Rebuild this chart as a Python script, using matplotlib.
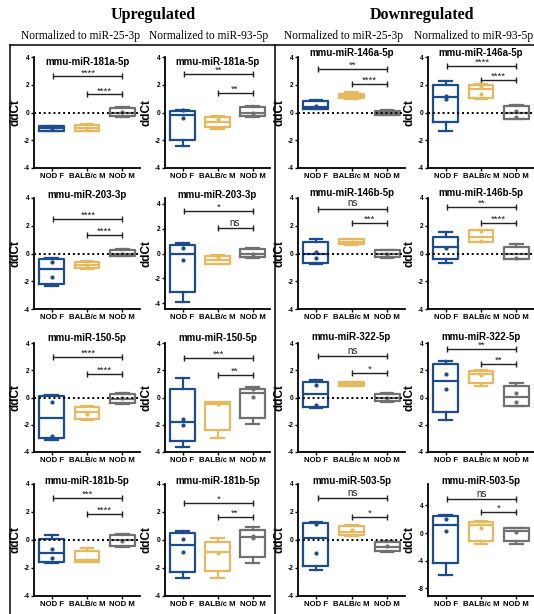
import matplotlib
matplotlib.use("Agg")
import matplotlib.pyplot as plt
from matplotlib.lines import Line2D

W, H = 534, 614

groups = ["NOD F", "BALB/c M", "NOD M"]
colors = ["#1d4b8f", "#e8b95c", "#707070"]

# ---------------- data: [min, q1, median, q3, max] per group ----------------
t_181a = "mmu-miR-181a-5p"
s_181a_25 = [[-1.35, -1.3, -1.15, -1.0, -0.95], [-1.35, -1.3, -1.1, -0.87, -0.82], [-0.3, -0.22, 0.0, 0.3, 0.4]]
p_181a_25 = [[-1.15], [-1.1], [0.05]]
g_181a_25 = [("****", 2.6), ("****", 1.3)]

s_181a_93 = [[-2.45, -1.95, -0.15, 0.1, 0.2], [-1.2, -1.07, -0.65, -0.3, -0.25], [-0.3, -0.25, -0.05, 0.37, 0.45]]
p_181a_93 = [[-0.4, 0.15], [-0.5], [0.0]]
g_181a_93 = [("**", 2.78), ("**", 1.43)]

t_146a = "mmu-miR-146a-5p"
s_146a_25 = [[0.25, 0.27, 0.43, 0.8, 0.9], [1.0, 1.03, 1.2, 1.35, 1.45], [-0.2, -0.17, -0.05, 0.12, 0.15]]
p_146a_25 = [[0.45], [1.2], [-0.05]]
g_146a_25 = [("**", 3.14), ("****", 2.03)]

s_146a_93 = [[-1.3, -0.72, 1.1, 1.98, 2.3], [1.0, 1.03, 1.68, 2.0, 2.05], [-0.5, -0.45, -0.05, 0.48, 0.55]]
p_146a_93 = [[1.2, 1.0], [1.9, 1.35], [0.1, -0.3]]
g_146a_93 = [("****", 3.36), ("****", 2.35)]

t_203 = "mmu-miR-203-3p"
s_203_25 = [[-2.35, -2.2, -1.1, -0.37, -0.3], [-1.1, -1.07, -0.85, -0.6, -0.55], [-0.2, -0.18, 0.0, 0.25, 0.3]]
p_203_25 = [[-0.6, -1.7], [-0.85], [0.0]]
g_203_25 = [("****", 2.48), ("****", 1.33)]

s_203_93 = [[-3.9, -3.07, -0.05, 0.7, 0.85], [-0.85, -0.83, -0.5, -0.2, -0.1], [-0.35, -0.32, 0.0, 0.35, 0.45]]
p_203_93 = [[0.45, -0.5], [-0.4], [0.0]]
g_203_93 = [("*", 3.38), ("ns", 2.03)]

t_146b = "mmu-miR-146b-5p"
s_146b_25 = [[-0.78, -0.66, -0.06, 0.85, 1.06], [0.6, 0.66, 0.85, 1.02, 1.05], [-0.3, -0.23, 0.0, 0.23, 0.28]]
p_146b_25 = [[0.1, -0.3], [0.85], [0.0]]
g_146b_25 = [("ns", 3.22), ("***", 2.17)]

s_146b_93 = [[-0.7, -0.42, 0.47, 1.21, 1.55], [0.8, 0.85, 1.21, 1.69, 1.7], [-0.4, -0.37, 0.0, 0.49, 0.66]]
p_146b_93 = [[0.4], [1.6, 0.9], [-0.3]]
g_146b_93 = [("**", 3.34), ("****", 2.22)]

t_150 = "mmu-miR-150-5p"
s_150_25 = [[-3.1, -3.0, -1.53, 0.13, 0.15], [-1.65, -1.58, -1.09, -0.72, -0.65], [-0.5, -0.43, -0.1, 0.26, 0.3]]
p_150_25 = [[-0.3, -2.85], [-1.2], [0.0]]
g_150_25 = [("****", 3.0), ("****", 1.7)]

s_150_93 = [[-3.62, -3.2, -1.8, 0.6, 1.41], [-3.0, -2.39, -0.45, -0.35, -0.3], [-1.97, -1.48, 0.3, 0.63, 0.75]]
p_150_93 = [[-1.6, -2.0], [-0.5], [0.6, 0.05]]
g_150_93 = [("***", 2.88), ("**", 1.65)]

t_322 = "mmu-miR-322-5p"
s_322_25 = [[-0.8, -0.72, 0.23, 1.16, 1.25], [0.85, 0.87, 1.0, 1.12, 1.15], [-0.35, -0.26, 0.0, 0.23, 0.3]]
p_322_25 = [[0.95, -0.55], [1.0], [0.0]]
g_322_25 = [("ns", 3.05), ("*", 1.78)]

s_322_93 = [[-1.65, -1.04, 1.21, 2.44, 2.7], [0.87, 1.04, 1.75, 1.97, 2.0], [-0.65, -0.6, 0.06, 0.87, 1.04]]
p_322_93 = [[1.75, 0.65], [1.65], [0.3, -0.3]]
g_322_93 = [("**", 3.54), ("**", 2.46)]

t_181b = "mmu-miR-181b-5p"
s_181b_25 = [[-1.66, -1.55, -0.95, 0.07, 0.36], [-1.6, -1.55, -1.45, -0.79, -0.6], [-0.5, -0.4, 0.0, 0.36, 0.45]]
p_181b_25 = [[-0.65, -1.3], [-1.4], [-0.05]]
g_181b_25 = [("***", 3.02), ("****", 1.83)]

s_181b_93 = [[-2.74, -2.26, -0.36, 0.48, 0.62], [-2.69, -2.21, -0.88, -0.12, 0.12], [-1.66, -1.24, 0.19, 0.71, 0.9]]
p_181b_93 = [[0.1, -0.85], [-0.95], [0.3, 0.15]]
g_181b_93 = [("*", 2.62), ("**", 1.67)]

t_503 = "mmu-miR-503-5p"
s_503_25 = [[-2.14, -1.84, 0.17, 1.24, 1.3], [0.3, 0.36, 0.6, 1.0, 1.1], [-0.85, -0.79, -0.5, -0.12, -0.1]]
p_503_25 = [[1.15, -0.9], [0.75], [-0.45]]
g_503_25 = [("ns", 2.98), ("*", 1.67)]

s_503_93 = [[-6.04, -4.35, 1.2, 2.5, 2.65], [-1.6, -1.11, 1.2, 1.54, 1.7], [-1.6, -1.11, 0.33, 0.72, 0.75]]
p_503_93 = [[2.0, 0.3], [0.8], [0.1]]
g_503_93 = [("ns", 4.9), ("*", 3.0)]

default_ticks = [-4, -2, 0, 2, 4]

# panel grid: (title, stats, points, sig, ylim, yticks, zero line)
panels = [
    [(t_181a, s_181a_25, p_181a_25, g_181a_25, (-4, 4), default_ticks, True),
     (t_181a, s_181a_93, p_181a_93, g_181a_93, (-4, 4), default_ticks, False),
     (t_146a, s_146a_25, p_146a_25, g_146a_25, (-4, 4), default_ticks, True),
     (t_146a, s_146a_93, p_146a_93, g_146a_93, (-4, 4), default_ticks, True)],
    [(t_203, s_203_25, p_203_25, g_203_25, (-4, 4), default_ticks, True),
     (t_203, s_203_93, p_203_93, g_203_93, (-4.45, 4.45), default_ticks, False),
     (t_146b, s_146b_25, p_146b_25, g_146b_25, (-4, 4), default_ticks, True),
     (t_146b, s_146b_93, p_146b_93, g_146b_93, (-4, 4), default_ticks, True)],
    [(t_150, s_150_25, p_150_25, g_150_25, (-4, 4), default_ticks, True),
     (t_150, s_150_93, p_150_93, g_150_93, (-4, 4), default_ticks, False),
     (t_322, s_322_25, p_322_25, g_322_25, (-4, 4), default_ticks, True),
     (t_322, s_322_93, p_322_93, g_322_93, (-4, 4), default_ticks, False)],
    [(t_181b, s_181b_25, p_181b_25, g_181b_25, (-4, 4), default_ticks, True),
     (t_181b, s_181b_93, p_181b_93, g_181b_93, (-4, 4), default_ticks, False),
     (t_503, s_503_25, p_503_25, g_503_25, (-4, 4), default_ticks, True),
     (t_503, s_503_93, p_503_93, g_503_93, (-9.1, 7.1), [-8, -4, 0, 4], False)],
]

col_x = [(34, 140), (165, 270), (298, 405), (428, 534)]
row_y = [(57, 168), (198, 309), (343, 452), (484, 596)]
title_y = [[62, 62, 53, 53], [195, 195, 193, 193], [338, 338, 337, 337], [481, 481, 481, 481]]

plt.rcParams["font.family"] = ["Liberation Sans", "DejaVu Sans"]
fig = plt.figure(figsize=(W / 100, H / 100), dpi=100)

for r, row in enumerate(panels):
    for c, (title, stats, pts, sig, ylim, yticks, zero) in enumerate(row):
        x0, x1 = col_x[c]
        yt, yb = row_y[r]
        ax = fig.add_axes([x0 / W, 1 - yb / H, (x1 - x0) / W, (yb - yt) / H])
        bxp_stats = [dict(whislo=s[0], q1=s[1], med=s[2], q3=s[3], whishi=s[4], fliers=[]) for s in stats]
        for i, st in enumerate(bxp_stats):
            col = colors[i]
            ax.bxp([st], positions=[i], widths=0.7, showfliers=False, patch_artist=False,
                   boxprops=dict(color=col, linewidth=1.6),
                   whiskerprops=dict(color=col, linewidth=1.6),
                   capprops=dict(color=col, linewidth=1.6),
                   medianprops=dict(color=col, linewidth=1.6),
                   capwidths=0.35, manage_ticks=False, zorder=3)
            ax.plot([i] * len(pts[i]), pts[i], "o", color=col, markersize=2, zorder=4)
        if zero:
            ax.axhline(0, color="black", linestyle=(0, (1, 1.5)), linewidth=1.4, zorder=5)
        # significance bars
        for k, (lab, yv) in enumerate(sig):
            xa = 0.05 if k == 0 else 1.0
            xb = 2.0
            ax.plot([xa, xb], [yv, yv], color="#222222", linewidth=1.0, zorder=2)
            ax.plot([xa, xb], [yv, yv], "|", color="#222222", markersize=4, markeredgewidth=1.0, zorder=2)
            if lab == "ns":
                ax.annotate(lab, ((xa + xb) / 2, yv), xytext=(0, 0.3), textcoords="offset points",
                            ha="center", va="bottom", fontsize=7, color="#222222")
            else:
                ax.annotate(lab, ((xa + xb) / 2, yv), xytext=(0, -0.6), textcoords="offset points",
                            ha="center", va="bottom", fontsize=6.8, color="#222222")
        ax.set_xlim(-0.5, 2.5)
        ax.set_ylim(*ylim)
        ax.set_yticks(yticks)
        ax.set_yticklabels([str(v) for v in yticks], fontsize=4.8, fontweight="bold")
        ax.set_xticks([0, 1, 2])
        ax.set_xticklabels(groups, fontsize=5.6, fontweight="bold")
        ax.tick_params(axis="both", length=2.2, width=1.0, pad=1)
        ax.tick_params(axis="x", pad=1.5)
        for sp in ["top", "right"]:
            ax.spines[sp].set_visible(False)
        for sp in ["left", "bottom"]:
            ax.spines[sp].set_linewidth(1.3)
        ax.set_ylabel("ddCt", fontsize=8.5, fontweight="bold")
        ax.yaxis.set_label_coords(-0.115, 0.5)
        fig.text((x0 + x1) / 2 / W, 1 - title_y[r][c] / H, title, ha="center", va="center",
                 fontsize=7, fontweight="bold")

# headers
serif = ["Liberation Serif", "DejaVu Serif"]
fig.text(153 / W, 1 - 15 / H, "Upregulated", ha="center", va="center", fontsize=11.5,
         fontweight="bold", family=serif)
fig.text(422 / W, 1 - 15 / H, "Downregulated", ha="center", va="center", fontsize=11.5,
         fontweight="bold", family=serif)
for xc, sub in [(81, "Normalized to miR-25-3p"), (209, "Normalized to miR-93-5p"),
                (344, "Normalized to miR-25-3p"), (474, "Normalized to miR-93-5p")]:
    fig.text(xc / W, 1 - 36 / H, sub, ha="center", va="center", fontsize=8.3, family=serif)

# frame
def fline(xs, ys):
    fig.add_artist(Line2D([x / W for x in xs], [1 - y / H for y in ys], color="black",
                          linewidth=1.1, transform=fig.transFigure))

fline([10, 10], [45, 614])
fline([10, 534], [45, 45])
fline([275, 275], [45, 614])

fig.savefig("out.png", dpi=100)
